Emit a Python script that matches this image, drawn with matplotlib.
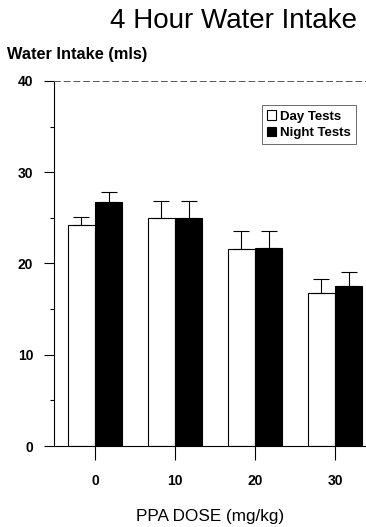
import matplotlib.pyplot as plt
from matplotlib.ticker import MultipleLocator

plt.rcParams['font.family'] = ['Liberation Sans', 'DejaVu Sans']

doses = ['0', '10', '20', '30']
day_mean = [24.2, 25.0, 21.6, 16.8]
day_err = [0.9, 1.8, 2.0, 1.5]
night_mean = [26.7, 25.0, 21.7, 17.5]
night_err = [1.1, 1.8, 1.9, 1.6]

fig = plt.figure(figsize=(3.66, 5.27), dpi=100)
ax = fig.add_axes([0.1475, 0.1537, 0.8525, 0.6926])

x = list(range(len(doses)))
w = 0.34
ax.bar([i - w for i in x], day_mean, width=w, align='edge', color='white',
       edgecolor='black', linewidth=0.8, label='Day Tests')
ax.bar(x, night_mean, width=w, align='edge', color='black',
       edgecolor='black', linewidth=0.8, label='Night Tests')
ax.errorbar([i - w / 2 for i in x], day_mean, yerr=[[0] * 4, day_err],
            fmt='none', ecolor='black', elinewidth=0.8, capsize=6, capthick=0.8)
ax.errorbar([i + w / 2 for i in x], night_mean, yerr=[[0] * 4, night_err],
            fmt='none', ecolor='black', elinewidth=0.8, capsize=6, capthick=0.8)

ax.set_xlim(-0.5125, 3.3875)
ax.set_ylim(0, 40)
ax.set_xticks(x)
ax.set_xticklabels(doses, fontweight='bold', fontsize=10)
ax.set_yticks([0, 10, 20, 30, 40])
ax.set_yticklabels(['0', '10', '20', '30', '40'], fontweight='bold', fontsize=10)
ax.yaxis.set_minor_locator(MultipleLocator(5))
ax.tick_params(axis='y', which='major', direction='out', length=7, width=0.8, pad=8)
ax.tick_params(axis='y', which='minor', direction='out', length=3, width=0.8)
ax.tick_params(axis='x', which='major', direction='out', length=10, width=0.8, pad=10)

ax.spines['right'].set_visible(False)
ax.spines['top'].set_linestyle((0, (6, 4)))
ax.spines['top'].set_linewidth(0.7)
ax.spines['top'].set_color('#555555')
ax.spines['left'].set_linewidth(0.8)
ax.spines['bottom'].set_linewidth(0.8)

leg = ax.legend(loc='upper right', bbox_to_anchor=(0.968, 0.934),
                prop={'weight': 'bold', 'size': 9.5}, frameon=True, fancybox=False,
                handlelength=0.7, handleheight=0.7, handletextpad=0.3,
                borderpad=0.4, labelspacing=0.3, borderaxespad=0)
leg.get_frame().set_edgecolor('#444444')
leg.get_frame().set_linewidth(0.7)

fig.text(0.976, 0.960, '4 Hour Water Intake', fontsize=20, ha='right', va='center')
fig.text(0.018, 0.896, 'Water Intake (mls)', fontsize=11.8, fontweight='bold',
         ha='left', va='center')
fig.text(0.574, 0.019, 'PPA DOSE (mg/kg)', fontsize=12.3, ha='center', va='center')

fig.savefig('out.png', dpi=100)
